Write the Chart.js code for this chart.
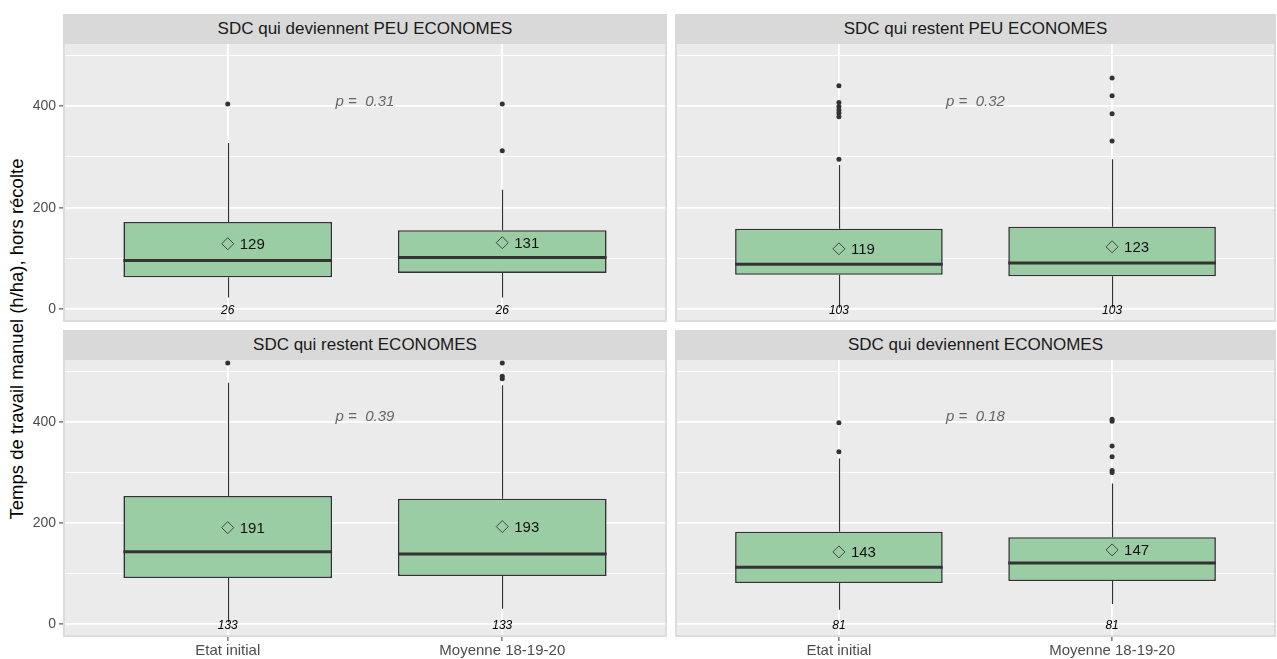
<!DOCTYPE html>
<html lang="fr">
<head>
<meta charset="utf-8">
<title>Temps de travail manuel</title>
<script src="https://cdn.jsdelivr.net/npm/chart.js@4.4.0/dist/chart.umd.min.js"></script>
<style>
  body { margin: 0; background: #fff; }
  #page { position: relative; width: 1277px; height: 659px; overflow: hidden; font-family: "Liberation Sans", Arial, sans-serif; }
  .strip { position: absolute; background: #d9d9d9; color: #1a1a1a; font-size: 17px; text-align: center; }
  .panel { position: absolute; }
  #ytitle { position: absolute; left: -233px; top: 328px; width: 500px; height: 22px; line-height: 22px;
            text-align: center; font-size: 18.5px; color: #000; transform: rotate(-90deg); }
</style>
</head>
<body>
<div id="page">
  <div id="ytitle">Temps de travail manuel (h/ha), hors récolte</div>
</div>
<script>
// categories et facettes
const categories = ['Etat initial', 'Moyenne 18-19-20'];
const facetTitles = ['SDC qui deviennent PEU ECONOMES', 'SDC qui restent PEU ECONOMES',
                     'SDC qui restent ECONOMES', 'SDC qui deviennent ECONOMES'];

// statistiques des boites, une ligne par facette : [Etat initial, Moyenne 18-19-20]
const q1Values      = [[63, 71.5], [68, 65], [91.5, 95.5], [81.5, 85.5]];
const medianValues  = [[96, 102], [88.5, 91], [143.5, 139], [112.5, 121]];
const q3Values      = [[172, 155.5], [158.5, 162.5], [253.5, 248], [183, 172]];
const lowerWhiskers = [[23, 23], [3, 3], [4, 31], [29, 40]];
const upperWhiskers = [[327, 235], [284, 295], [477, 472], [327.5, 278]];
const meanValues    = [[129, 131], [119, 123], [191, 193], [143, 147]];
const outlierValues = [
  [[404], [404, 312]],
  [[440, 407, 399, 392, 386, 379, 295], [455, 420, 385, 331]],
  [[516], [516, 490, 485]],
  [[398, 341], [405, 401, 352, 331, 304, 300]]
];
const nValues = [26, 103, 133, 81];
const pValues = ['0.31', '0.32', '0.39', '0.18'];

// axe y
const yMajorTicks = [0, 200, 400];
const yMinorTicks = [100, 300, 500];

// mise en page
const Y_MIN = -25, Y_MAX = 522;
const cols = [{ left: 63, right: 667 }, { left: 675, right: 1276 }];
const rows = [{ stripTop: 14, top: 44, bottom: 322 }, { stripTop: 330, top: 360, bottom: 637 }];
const BOX_FILL = '#9bcda5';
const DARK = '#333333';

Chart.defaults.font.family = '"Liberation Sans", Arial, sans-serif';

// fond du panneau, moustaches, medianes et textes
const boxPlugin = {
  id: 'boxExtras',
  beforeDraw(chart) {
    const { ctx, chartArea: a } = chart;
    ctx.save();
    ctx.fillStyle = '#ebebeb';
    ctx.fillRect(a.left, a.top, a.right - a.left, a.bottom - a.top);
    ctx.restore();
  },
  beforeDatasetsDraw(chart, args, opts) {
    const f = opts.facet;
    const { ctx, scales: { x, y } } = chart;
    ctx.save();
    ctx.strokeStyle = DARK;
    ctx.lineWidth = 1.2;
    for (let i = 0; i < categories.length; i++) {
      const px = Math.round(x.getPixelForValue(i + 1)) + 0.5;
      ctx.beginPath();
      ctx.moveTo(px, y.getPixelForValue(q3Values[f][i]));
      ctx.lineTo(px, y.getPixelForValue(upperWhiskers[f][i]));
      ctx.moveTo(px, y.getPixelForValue(q1Values[f][i]));
      ctx.lineTo(px, y.getPixelForValue(lowerWhiskers[f][i]));
      ctx.stroke();
    }
    ctx.restore();
  },
  afterDatasetsDraw(chart, args, opts) {
    const f = opts.facet;
    const { ctx, chartArea: a, scales: { x, y } } = chart;
    const bars = chart.getDatasetMeta(0).data;
    ctx.save();
    // medianes
    ctx.strokeStyle = DARK;
    ctx.lineWidth = 3;
    bars.forEach((el, i) => {
      const py = y.getPixelForValue(medianValues[f][i]);
      ctx.beginPath();
      ctx.moveTo(el.x - el.width / 2, py);
      ctx.lineTo(el.x + el.width / 2, py);
      ctx.stroke();
    });
    // moyennes et effectifs
    for (let i = 0; i < categories.length; i++) {
      const px = x.getPixelForValue(i + 1);
      ctx.fillStyle = '#111';
      ctx.font = '15px "Liberation Sans", Arial, sans-serif';
      ctx.textAlign = 'left';
      ctx.textBaseline = 'middle';
      ctx.fillText(String(meanValues[f][i]), px + 12, y.getPixelForValue(meanValues[f][i]) + 1);
      ctx.font = 'italic 12px "Liberation Sans", Arial, sans-serif';
      ctx.textAlign = 'center';
      ctx.fillStyle = '#000';
      ctx.fillText(String(nValues[f]), px, y.getPixelForValue(-3));
    }
    // p-value
    ctx.font = 'italic 15px "Liberation Sans", Arial, sans-serif';
    ctx.fillStyle = '#666';
    ctx.textAlign = 'center';
    ctx.fillText('p =  ' + pValues[f], x.getPixelForValue(1.5), y.getPixelForValue(409));
    // bordure du panneau
    ctx.strokeStyle = '#dcdcdc';
    ctx.lineWidth = 2;
    ctx.beginPath();
    ctx.moveTo(a.left + 1, a.top);
    ctx.lineTo(a.left + 1, a.bottom - 1);
    ctx.lineTo(a.right - 1, a.bottom - 1);
    ctx.lineTo(a.right - 1, a.top);
    ctx.stroke();
    ctx.restore();
  }
};

function isMajor(c) {
  return c.tick && yMajorTicks.includes(c.tick.value);
}

function noPadding(s) {
  s.paddingTop = 0;
  s.paddingBottom = 0;
  s.paddingLeft = 0;
  s.paddingRight = 0;
}

function makeFacet(f) {
  const row = Math.floor(f / 2), col = f % 2;
  const page = document.getElementById('page');
  const c = cols[col], r = rows[row];

  const strip = document.createElement('div');
  strip.className = 'strip';
  strip.style.left = c.left + 'px';
  strip.style.top = r.stripTop + 'px';
  strip.style.width = (c.right - c.left) + 'px';
  strip.style.height = (r.top - r.stripTop) + 'px';
  strip.style.lineHeight = (r.top - r.stripTop) + 'px';
  strip.textContent = facetTitles[f];
  page.appendChild(strip);

  const yAxisW = col === 0 ? c.left : 0;
  const xAxisH = row === 1 ? 659 - r.bottom : 0;
  const holder = document.createElement('div');
  holder.className = 'panel';
  holder.style.left = (c.left - yAxisW) + 'px';
  holder.style.top = r.top + 'px';
  holder.style.width = (c.right - c.left + yAxisW) + 'px';
  holder.style.height = (r.bottom - r.top + xAxisH) + 'px';
  const canvas = document.createElement('canvas');
  holder.appendChild(canvas);
  page.appendChild(holder);

  const outliers = [];
  outlierValues[f].forEach((list, i) => list.forEach(v => outliers.push({ x: i + 1, y: v })));

  new Chart(canvas, {
    type: 'bar',
    data: {
      datasets: [{
        type: 'bar',
        data: categories.map((_, i) => ({ x: i + 1, y: [q1Values[f][i], q3Values[f][i]] })),
        backgroundColor: BOX_FILL,
        borderColor: DARK,
        borderWidth: 1.6,
        borderSkipped: false,
        barPercentage: 0.76,
        categoryPercentage: 1,
        order: 3
      }, {
        type: 'scatter',
        data: outliers,
        pointRadius: 2.5,
        backgroundColor: DARK,
        borderWidth: 0,
        order: 1
      }, {
        type: 'scatter',
        data: categories.map((_, i) => ({ x: i + 1, y: meanValues[f][i] })),
        pointStyle: 'rectRot',
        pointRadius: 6,
        backgroundColor: 'rgba(0,0,0,0)',
        borderColor: '#444',
        borderWidth: 1,
        order: 0
      }]
    },
    options: {
      responsive: true,
      maintainAspectRatio: false,
      animation: false,
      layout: { padding: 0, autoPadding: false },
      plugins: {
        legend: { display: false },
        tooltip: { enabled: false },
        boxExtras: { facet: f }
      },
      scales: {
        x: {
          type: 'linear',
          min: 0.4,
          max: 2.6,
          offset: false,
          afterBuildTicks: s => { s.ticks = categories.map((_, i) => ({ value: i + 1 })); },
          afterFit: s => { s.height = xAxisH; noPadding(s); },
          border: { display: false },
          grid: { offset: false, color: '#fff', lineWidth: 1.8, drawTicks: row === 1,
                  tickLength: 4, tickColor: DARK, tickWidth: 1 },
          ticks: { display: row === 1, padding: 1, color: '#4d4d4d', font: { size: 15 },
                   autoSkip: false, maxRotation: 0,
                   callback: v => categories[Math.round(v) - 1] }
        },
        y: {
          min: Y_MIN,
          max: Y_MAX,
          afterBuildTicks: s => {
            s.ticks = yMajorTicks.concat(yMinorTicks).sort((a, b) => a - b).map(v => ({ value: v }));
          },
          afterFit: s => { s.width = yAxisW; noPadding(s); },
          border: { display: false },
          grid: {
            color: '#fff',
            lineWidth: ctx => isMajor(ctx) ? 1.8 : 0.9,
            drawTicks: col === 0,
            tickLength: 4,
            tickWidth: 1,
            tickColor: ctx => isMajor(ctx) ? DARK : 'rgba(0,0,0,0)'
          },
          ticks: { display: col === 0, padding: 3, color: '#4d4d4d', font: { size: 14 }, autoSkip: false,
                   callback: v => yMajorTicks.includes(v) ? String(v) : '' }
        }
      }
    },
    plugins: [boxPlugin]
  });
}

for (let f = 0; f < facetTitles.length; f++) makeFacet(f);
</script>
</body>
</html>
